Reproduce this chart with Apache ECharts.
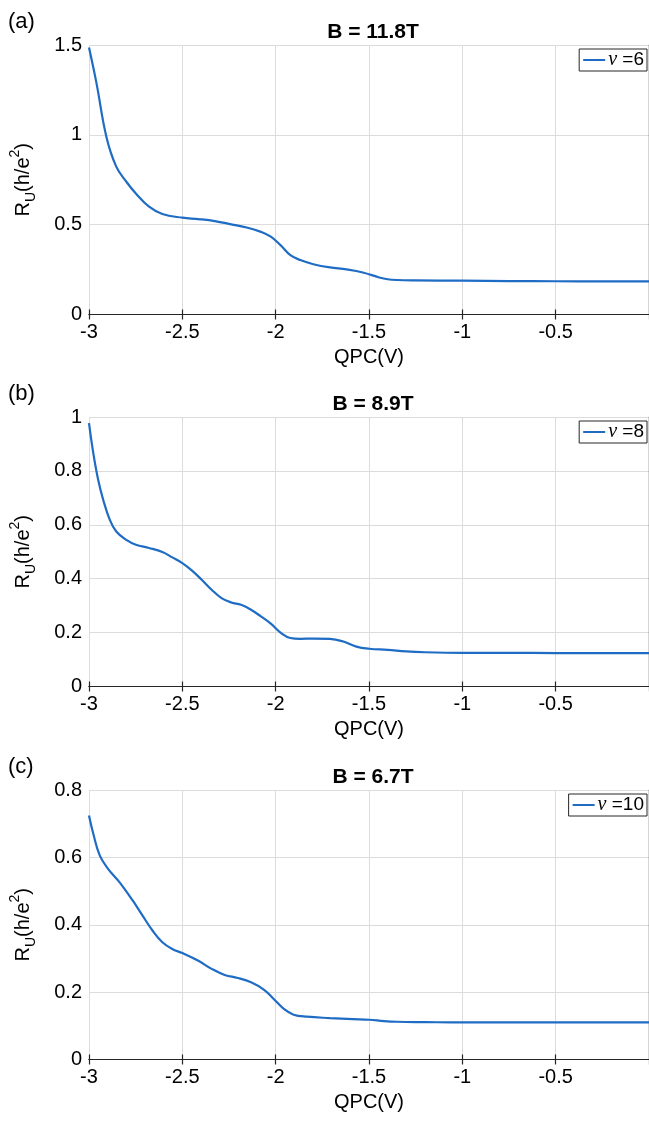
<!DOCTYPE html>
<html>
<head>
<meta charset="utf-8">
<script src="https://cdn.jsdelivr.net/npm/echarts@6/dist/echarts.min.js"></script>
<style>
html,body{margin:0;padding:0;background:#fff;}
#chart{width:649px;height:1123px;}
</style>
</head>
<body>
<div id="chart"></div>
<script>
// ---- data ----
var titles = ['B = 11.8T', 'B = 8.9T', 'B = 6.7T'];
var panelLabels = ['(a)', '(b)', '(c)'];
var seriesNames = ['\u03bd =6', '\u03bd =8', '\u03bd =10'];
var xTicks = [-3, -2.5, -2, -1.5, -1, -0.5, 0];
var yMaxes = [1.5, 1, 0.8];
var yIntervals = [0.5, 0.2, 0.2];

var qpcA = [-3.0, -2.96, -2.907, -2.854, -2.80, -2.749, -2.678, -2.607, -2.50, -2.414, -2.326, -2.238, -2.15, -2.079, -2.026, -1.974, -1.921, -1.868, -1.798, -1.709, -1.621, -1.533, -1.445, -1.40, -1.35, -1.25, -1.0, -0.75, -0.5, -0.25, 0];
var ruA  = [1.486, 1.288, 0.99, 0.823, 0.739, 0.674, 0.600, 0.559, 0.539, 0.531, 0.520, 0.502, 0.483, 0.460, 0.433, 0.386, 0.330, 0.303, 0.280, 0.262, 0.251, 0.234, 0.206, 0.196, 0.192, 0.190, 0.188, 0.186, 0.185, 0.184, 0.184];

var qpcB = [-3.0, -2.977, -2.951, -2.924, -2.889, -2.854, -2.80, -2.749, -2.678, -2.607, -2.554, -2.50, -2.448, -2.396, -2.343, -2.29, -2.238, -2.185, -2.132, -2.079, -2.026, -1.974, -1.921, -1.868, -1.798, -1.709, -1.638, -1.568, -1.498, -1.4, -1.3, -1.2, -1.0, -0.75, -0.5, -0.25, 0];
var ruB  = [0.977, 0.866, 0.767, 0.693, 0.619, 0.575, 0.544, 0.526, 0.514, 0.499, 0.479, 0.458, 0.430, 0.396, 0.359, 0.328, 0.312, 0.303, 0.285, 0.260, 0.233, 0.200, 0.180, 0.177, 0.178, 0.177, 0.167, 0.148, 0.140, 0.136, 0.130, 0.127, 0.125, 0.125, 0.124, 0.124, 0.124];

var qpcC = [-3.0, -2.977, -2.942, -2.898, -2.836, -2.766, -2.713, -2.66, -2.607, -2.554, -2.50, -2.414, -2.343, -2.273, -2.203, -2.132, -2.062, -2.009, -1.956, -1.904, -1.833, -1.709, -1.586, -1.498, -1.42, -1.35, -1.2, -1.0, -0.75, -0.5, -0.25, 0];
var ruC  = [0.724, 0.670, 0.605, 0.566, 0.526, 0.472, 0.427, 0.383, 0.348, 0.328, 0.316, 0.293, 0.269, 0.251, 0.242, 0.229, 0.207, 0.179, 0.150, 0.133, 0.127, 0.123, 0.120, 0.118, 0.114, 0.112, 0.111, 0.110, 0.110, 0.110, 0.110, 0.110];

var qpcs = [qpcA, qpcB, qpcC];
var rus = [ruA, ruB, ruC];

// ---- layout ----
var gridTops = [45, 417, 790];
var gridHeight = 269.5;
var gridLeft = 85.7;
var gridWidth = 567.3;
var FONT = 'Liberation Sans, Arial, Helvetica, sans-serif';
var AX = '#262626';
var LINE = '#1f6cc4';

var option = {
  backgroundColor: '#ffffff',
  animation: false,
  title: [], grid: [], xAxis: [], yAxis: [], legend: [], series: []
};

for (var i = 0; i < 3; i++) {
  option.grid.push({left: gridLeft, top: gridTops[i], width: gridWidth, height: gridHeight, containLabel: false});
  option.title.push({
    text: titles[i], left: 368, top: gridTops[i] - 28, textAlign: 'center',
    textStyle: {fontFamily: FONT, fontSize: 21, fontWeight: 'bold', color: '#000'}
  });
  option.title.push({
    text: panelLabels[i], left: 3, top: gridTops[i] - 39,
    textStyle: {fontFamily: FONT, fontSize: 22, fontWeight: 'normal', color: '#000'}
  });
  var axLine = {show: true, lineStyle: {color: AX, width: 1.2}};
  // bottom x axis
  option.xAxis.push({
    type: 'value', gridIndex: i, min: -3, max: 0, interval: 0.5, position: 'bottom',
    axisLine: axLine,
    axisTick: {show: true, inside: true, length: 5, lineStyle: {color: AX, width: 1.2}},
    axisLabel: {show: true, showMaxLabel: false, margin: 8, color: '#000', fontFamily: FONT, fontSize: 20},
    splitLine: {show: true, lineStyle: {color: '#dcdcdc', width: 1}},
    name: 'QPC(V)', nameLocation: 'middle', nameGap: 33,
    nameTextStyle: {fontFamily: FONT, fontSize: 20, color: '#000'}
  });
  // top x axis (box)
  option.xAxis.push({
    type: 'value', gridIndex: i, min: -3, max: 0, interval: 0.5, position: 'top',
    axisLine: axLine,
    axisTick: {show: true, inside: true, length: 5, lineStyle: {color: AX, width: 1.2}},
    axisLabel: {show: false}, splitLine: {show: false}
  });
  option.yAxis.push({
    type: 'value', gridIndex: i, min: 0, max: yMaxes[i], interval: yIntervals[i], position: 'left',
    axisLine: axLine,
    axisTick: {show: true, inside: true, length: 5, lineStyle: {color: AX, width: 1.2}},
    axisLabel: {show: true, margin: 7, color: '#000', fontFamily: FONT, fontSize: 20},
    splitLine: {show: true, lineStyle: {color: '#dcdcdc', width: 1}},
    name: 'R{sub|U}(h/e{sup|2})', nameLocation: 'middle', nameRotate: 90, nameGap: 51,
    nameTextStyle: {
      fontFamily: FONT, fontSize: 20, color: '#000',
      rich: {
        sub: {fontFamily: FONT, fontSize: 14, color: '#000', verticalAlign: 'bottom', lineHeight: 30, padding: [10, 0, 0, 0]},
        sup: {fontFamily: FONT, fontSize: 14, color: '#000', verticalAlign: 'top', lineHeight: 30, padding: [0, 0, 10, 0]}
      }
    }
  });
  option.yAxis.push({
    type: 'value', gridIndex: i, min: 0, max: yMaxes[i], interval: yIntervals[i], position: 'right',
    axisLine: axLine, axisTick: {show: false}, axisLabel: {show: false}, splitLine: {show: false}
  });
  option.legend.push({
    data: [seriesNames[i]], right: 2, top: gridTops[i] + 4,
    orient: 'vertical', padding: [1, 3, 1, 4], itemWidth: 22, itemHeight: 2, icon: 'rect',
    borderColor: AX, borderWidth: 1, backgroundColor: '#fff', selectedMode: false,
    itemStyle: {color: LINE},
    formatter: function (n) { return '{i|\u03bd}' + n.slice(1); },
    textStyle: {
      fontFamily: FONT, fontSize: 19, color: '#000', padding: [0, 0, 0, -2],
      rich: {i: {fontFamily: 'Liberation Serif, serif', fontStyle: 'italic', fontSize: 20, color: '#000'}}
    }
  });
  var pts = [];
  for (var k = 0; k < qpcs[i].length; k++) pts.push([qpcs[i][k], rus[i][k]]);
  option.series.push({
    name: seriesNames[i], type: 'line', xAxisIndex: 2 * i, yAxisIndex: 2 * i,
    data: pts, showSymbol: false, symbol: 'none', smooth: 0.4,
    lineStyle: {color: LINE, width: 2.2}, itemStyle: {color: LINE}
  });
}

var chart = echarts.init(document.getElementById('chart'), null, {renderer: 'canvas'});
chart.setOption(option);
</script>
</body>
</html>
